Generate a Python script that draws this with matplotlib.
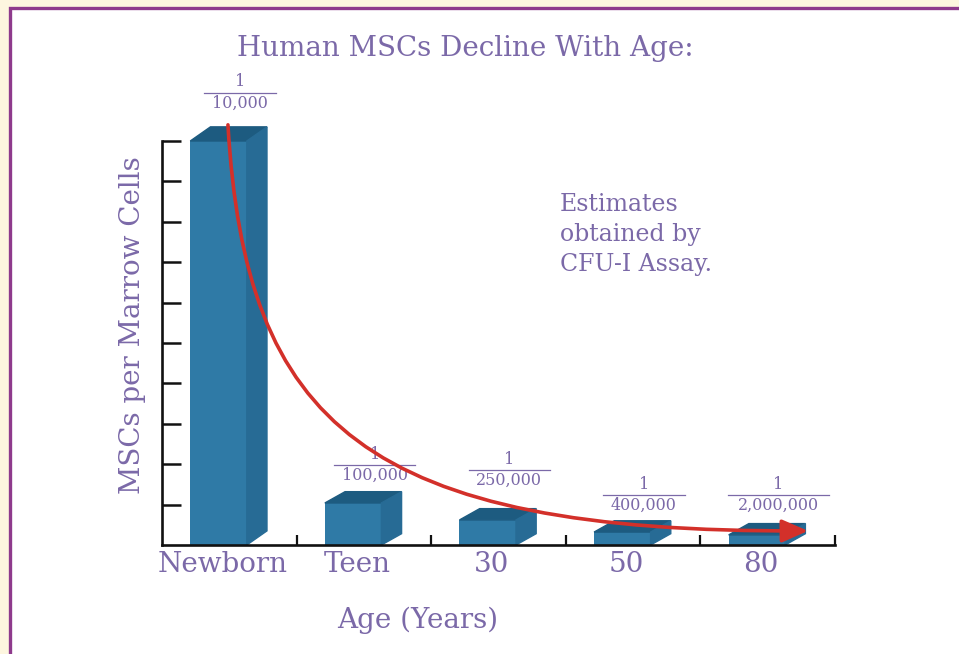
import matplotlib.pyplot as plt
from matplotlib.patches import Rectangle, Polygon, FancyArrowPatch
from matplotlib.path import Path

# data (arbitrary bar units, axis 0..10)
ages = ['Newborn', 'Teen', '30', '50', '80']
heights = [10.0, 1.04, 0.62, 0.32, 0.25]
denominators = ['10,000', '100,000', '250,000', '400,000', '2,000,000']
label_y = [11.2, 1.98, 1.86, 1.24, 1.24]

purple = '#7b69a8'
red = '#d3302a'
front_c = '#2f7aa6'
top_c = '#1d5b80'
side_c = '#276b95'
serif = 'DejaVu Serif'

fig = plt.figure(figsize=(9.59, 6.54), dpi=100, facecolor='#fdf6df')
frame = Rectangle((10 / 959, -0.1), 1.2, (654 - 8) / 654 + 0.1,
                  transform=fig.transFigure, facecolor='white',
                  edgecolor='#8e3a8c', linewidth=2.4, zorder=-5)
fig.add_artist(frame)

ax = fig.add_axes([162 / 959, (654 - 545) / 654, 673 / 959, 404 / 654])
ax.patch.set_alpha(0)
ax.set_xlim(0, 5)
ax.set_ylim(0, 10)
for s in ['top', 'right']:
    ax.spines[s].set_visible(False)
for s in ['left', 'bottom']:
    ax.spines[s].set_linewidth(1.9)
    ax.spines[s].set_color('#111111')

ax.set_yticks(range(1, 11))
ax.tick_params(axis='y', direction='in', length=14, width=1.8,
               color='#111111', labelleft=False)
ax.set_xticks([1, 2, 3, 4, 5])
ax.tick_params(axis='x', which='major', direction='in', length=7,
               width=1.6, color='#111111', labelbottom=False)
ax.set_xticks([i + 0.45 for i in range(len(ages))], minor=True)
ax.set_xticklabels(ages, minor=True)
ax.tick_params(axis='x', which='minor', length=0, pad=4,
               labelsize=20, labelcolor=purple)
for t in ax.get_xticklabels(minor=True):
    t.set_family(serif)

# 3d-looking bars
w = 0.42
dx = 0.15
for i, h in enumerate(heights):
    x0 = i + 0.21
    dy = 0.35 if h > 2 else 0.28
    ax.bar(x0, h, width=w, align='edge', color=front_c, zorder=2,
           clip_on=False)
    top = Polygon([(x0, h), (x0 + w, h), (x0 + w + dx, h + dy),
                   (x0 + dx, h + dy)], closed=True, color=top_c,
                  zorder=2, clip_on=False)
    side = Polygon([(x0 + w, 0), (x0 + w, h), (x0 + w + dx, h + dy),
                    (x0 + w + dx, dy)], closed=True, color=side_c,
                   zorder=2, clip_on=False)
    ax.add_patch(top)
    ax.add_patch(side)

    # fraction label
    cx = i + 0.58
    ly = label_y[i]
    half = 0.05 + 0.036 * len(denominators[i])
    ax.plot([cx - half, cx + half], [ly, ly], color=purple, lw=0.9,
            clip_on=False, zorder=3)
    ax.text(cx, ly + 0.05, '1', ha='center', va='bottom', fontsize=11.5,
            color=purple, family=serif)
    ax.text(cx, ly - 0.05, denominators[i], ha='center', va='top',
            fontsize=11.5, color=purple, family=serif)

# decline arrow
verts = [(0.49, 10.4), (0.62, 3.0), (1.5, 0.3), (4.8, 0.35)]
codes = [Path.MOVETO, Path.CURVE4, Path.CURVE4, Path.CURVE4]
arrow = FancyArrowPatch(path=Path(verts, codes),
                        arrowstyle='-|>,head_length=1.6,head_width=0.7',
                        mutation_scale=10, color=red, lw=2.6,
                        zorder=4, clip_on=False)
ax.add_patch(arrow)

fig.text(465 / 959, 1 - 48 / 654, 'Human MSCs Decline With Age:',
         ha='center', va='center', fontsize=20, color=purple, family=serif)
fig.text(132 / 959, 1 - 325 / 654, 'MSCs per Marrow Cells', rotation=90,
         ha='center', va='center', fontsize=20, color=purple, family=serif)
fig.text(418 / 959, 1 - 620 / 654, 'Age (Years)', ha='center', va='center',
         fontsize=20, color=purple, family=serif)
fig.text(560 / 959, 1 - 193 / 654, 'Estimates\nobtained by\nCFU-I Assay.',
         ha='left', va='top', fontsize=17, color=purple, family=serif,
         linespacing=1.4)

fig.savefig('out.png', dpi=100, facecolor=fig.get_facecolor())
